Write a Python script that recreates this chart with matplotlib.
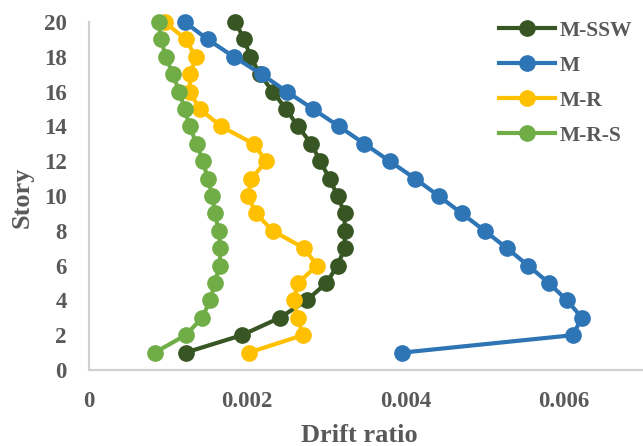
import matplotlib.pyplot as plt

# story drift ratios per model
story = list(range(1, 21))

m_ssw = [0.00122, 0.00193, 0.00241, 0.00275, 0.00300, 0.00314, 0.00323, 0.00323, 0.00323, 0.00314,
         0.00304, 0.00292, 0.00281, 0.00264, 0.00249, 0.00232, 0.00216, 0.00204, 0.00196, 0.00185]
m = [0.00396, 0.00611, 0.00623, 0.00604, 0.00581, 0.00555, 0.00528, 0.00500, 0.00471, 0.00442,
     0.00412, 0.00380, 0.00348, 0.00316, 0.00283, 0.00250, 0.00218, 0.00183, 0.00150, 0.00121]
m_r = [0.00202, 0.00270, 0.00264, 0.00259, 0.00264, 0.00288, 0.00272, 0.00232, 0.00211, 0.00201,
       0.00205, 0.00224, 0.00208, 0.00167, 0.00140, 0.00127, 0.00128, 0.00135, 0.00122, 0.00096]
m_r_s = [0.00083, 0.00122, 0.00143, 0.00153, 0.00159, 0.00165, 0.00166, 0.00164, 0.00159, 0.00156,
         0.00150, 0.00144, 0.00136, 0.00127, 0.00121, 0.00114, 0.00106, 0.00097, 0.00091, 0.00088]

labels = ['M-SSW', 'M', 'M-R', 'M-R-S']
colors = ['#375623', '#2E75B6', '#FFC000', '#70AD47']

plt.rcParams['font.family'] = ['Liberation Serif', 'DejaVu Serif']
plt.rcParams['font.weight'] = 'bold'
txt = '#595959'

fig = plt.figure(figsize=(6.43, 4.46), dpi=100)
ax = fig.add_axes([89 / 643, 76 / 446, 554 / 643, 348 / 446])

for xs, lab, c in zip([m_ssw, m, m_r, m_r_s], labels, colors):
    ax.plot(xs, story, color=c, lw=3, marker='o', ms=11, label=lab, clip_on=False)

ax.set_xlim(0, 0.007)
ax.set_ylim(0, 20)
ax.set_xticks([0, 0.002, 0.004, 0.006])
ax.set_xticklabels(['0', '0.002', '0.004', '0.006'])
ax.set_yticks(range(0, 21, 2))

for s in ['top', 'right']:
    ax.spines[s].set_visible(False)
for s in ['left', 'bottom']:
    ax.spines[s].set_color('#D0D0D0')
    ax.spines[s].set_linewidth(1.5)
ax.tick_params(length=0, labelsize=16.5, colors=txt)
ax.tick_params(axis='y', pad=16)
ax.tick_params(axis='x', pad=15)

# axis titles placed in figure coordinates
fig.text(359 / 643, 1 - 436 / 446, 'Drift ratio', fontsize=19, fontweight='bold',
         color=txt, ha='center', va='center')
fig.text(22 / 643, 1 - 197 / 446, 'Story', fontsize=19, fontweight='bold',
         color=txt, ha='center', va='center', rotation=90)

leg = ax.legend(loc='upper right', bbox_to_anchor=(1.015, 1.06), frameon=False, fontsize=15.5,
                handlelength=2.6, labelspacing=0.7, handletextpad=0.2, labelcolor=txt)

fig.savefig('out.png', dpi=100)
